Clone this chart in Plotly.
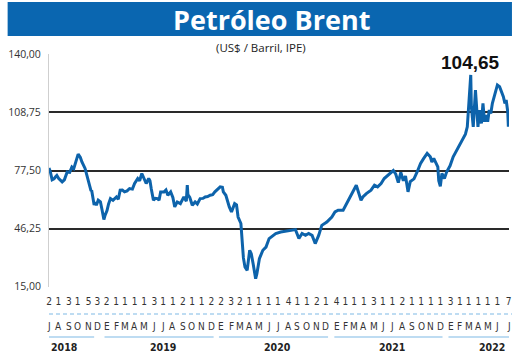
import plotly.graph_objects as go
import datetime as dt

# ---------------- data ----------------
dates = [
    "2018-07-02", "2018-07-06", "2018-07-12", "2018-07-18", "2018-07-23", "2018-07-27",
    "2018-08-02", "2018-08-08", "2018-08-13", "2018-08-20", "2018-08-29", "2018-09-06",
    "2018-09-13", "2018-09-19", "2018-09-24", "2018-10-03", "2018-10-10", "2018-10-15",
    "2018-10-25", "2018-11-01", "2018-11-05", "2018-11-13", "2018-11-15", "2018-11-23",
    "2018-11-26", "2018-11-30", "2018-12-06", "2018-12-13", "2018-12-18", "2018-12-24",
    "2018-12-28", "2019-01-03", "2019-01-08", "2019-01-14", "2019-01-22", "2019-02-02",
    "2019-02-08", "2019-02-14", "2019-02-21", "2019-02-28", "2019-03-08", "2019-03-16",
    "2019-03-25", "2019-04-01", "2019-04-11", "2019-04-17", "2019-04-24", "2019-05-02",
    "2019-05-08", "2019-05-16", "2019-05-20", "2019-05-24", "2019-05-31", "2019-06-06",
    "2019-06-13", "2019-06-18", "2019-06-23", "2019-07-04", "2019-07-10", "2019-07-16",
    "2019-07-25", "2019-08-01", "2019-08-07", "2019-08-15", "2019-08-25", "2019-09-05",
    "2019-09-13", "2019-09-16", "2019-09-18", "2019-09-24", "2019-10-02", "2019-10-11",
    "2019-10-18", "2019-10-27", "2019-11-05", "2019-11-12", "2019-11-20", "2019-11-28",
    "2019-12-06", "2019-12-13", "2019-12-20", "2019-12-30", "2020-01-06", "2020-01-09",
    "2020-01-17", "2020-01-22", "2020-01-28", "2020-02-04", "2020-02-14", "2020-02-20",
    "2020-02-25", "2020-03-05", "2020-03-09", "2020-03-13", "2020-03-18", "2020-03-25",
    "2020-04-02", "2020-04-07", "2020-04-13", "2020-04-21", "2020-04-25", "2020-05-03",
    "2020-05-14", "2020-05-24", "2020-06-03", "2020-06-14", "2020-06-24", "2020-07-10",
    "2020-07-26", "2020-08-11", "2020-08-26", "2020-09-06", "2020-09-16", "2020-09-27",
    "2020-10-07", "2020-10-18", "2020-10-28", "2020-11-08", "2020-11-18", "2020-12-04",
    "2020-12-20", "2020-12-30", "2021-01-09", "2021-01-25", "2021-02-05", "2021-02-15",
    "2021-02-24", "2021-03-03", "2021-03-08", "2021-03-13", "2021-03-23", "2021-03-29",
    "2021-04-09", "2021-04-24", "2021-05-05", "2021-05-15", "2021-05-26", "2021-06-05",
    "2021-06-16", "2021-06-26", "2021-07-04", "2021-07-12", "2021-07-20", "2021-07-28",
    "2021-08-05", "2021-08-12", "2021-08-20", "2021-08-27", "2021-09-08", "2021-09-18",
    "2021-09-29", "2021-10-09", "2021-10-20", "2021-10-30", "2021-11-04", "2021-11-10",
    "2021-11-15", "2021-11-23", "2021-11-26", "2021-12-01", "2021-12-06", "2021-12-14",
    "2021-12-21", "2022-01-01", "2022-01-11", "2022-01-22", "2022-02-02", "2022-02-12",
    "2022-02-19", "2022-02-25", "2022-03-02", "2022-03-08", "2022-03-10", "2022-03-16",
    "2022-03-23", "2022-03-28", "2022-03-31", "2022-04-05", "2022-04-11", "2022-04-16",
    "2022-04-21", "2022-04-26", "2022-05-01", "2022-05-06", "2022-05-11", "2022-05-16",
    "2022-05-24", "2022-06-01", "2022-06-08", "2022-06-14", "2022-06-20", "2022-06-25",
    "2022-06-29", "2022-07-04", "2022-07-06", "2022-07-07",
]
brent = [
    78.9, 77.0, 72.5, 73.0, 74.1, 74.8,
    73.2, 72.0, 71.4, 72.5, 76.7, 76.5,
    79.4, 78.5, 81.3, 86.3, 84.5, 82.1,
    78.6, 74.5, 72.3, 66.5, 66.9, 59.0,
    60.5, 58.8, 61.5, 60.6, 56.5, 51.1,
    53.5, 56.0, 59.5, 62.4, 61.5, 63.3,
    62.0, 66.9, 67.0, 66.0, 66.5, 67.8,
    67.5, 70.5, 73.2, 72.0, 75.9, 72.3,
    70.5, 73.2, 72.0, 67.8, 61.5, 62.5,
    62.4, 61.5, 66.0, 66.0, 67.0, 64.2,
    66.0, 63.0, 57.9, 60.6, 59.7, 63.3,
    61.0, 69.6, 64.5, 63.0, 58.8, 60.6,
    59.5, 62.4, 62.5, 63.3, 63.5, 64.2,
    64.5, 66.0, 67.0, 68.7, 68.5, 66.0,
    64.2, 60.6, 57.9, 55.2, 59.7, 59.0,
    52.5, 49.0, 36.3, 30.5, 25.6, 23.8,
    34.6, 32.8, 27.4, 19.3, 22.0, 30.1,
    34.6, 36.3, 40.9, 42.6, 43.6, 44.4,
    44.8, 45.3, 45.7, 40.9, 43.6, 42.6,
    43.6, 42.6, 38.2, 42.6, 48.0, 49.8,
    52.5, 55.2, 56.1, 56.1, 59.7, 63.3,
    66.0, 67.8, 69.6, 66.9, 61.5, 63.3,
    65.1, 66.9, 69.6, 68.7, 70.5, 73.2,
    75.0, 76.7, 77.5, 75.5, 71.0, 76.5,
    72.0, 74.5, 66.0, 71.5, 73.0, 76.7,
    81.3, 84.0, 86.7, 84.9, 82.0, 84.0,
    82.1, 79.4, 72.0, 69.0, 75.9, 73.2,
    76.7, 80.0, 84.9, 88.4, 91.1, 94.7,
    97.0, 101.0, 113.6, 128.9, 111.8, 101.0,
    120.8, 105.5, 101.0, 110.0, 102.8, 113.6,
    103.7, 107.3, 103.7, 110.0, 108.2, 113.6,
    119.0, 123.5, 122.6, 119.9, 117.2, 113.6,
    115.4, 109.1, 101.0, 104.65,
]

# x-axis: first quoted day of every month (Jul 2018 .. Jul 2022)
tick_months = [
    "2018-07", "2018-08", "2018-09", "2018-10", "2018-11", "2018-12",
    "2019-01", "2019-02", "2019-03", "2019-04", "2019-05", "2019-06",
    "2019-07", "2019-08", "2019-09", "2019-10", "2019-11", "2019-12",
    "2020-01", "2020-02", "2020-03", "2020-04", "2020-05", "2020-06",
    "2020-07", "2020-08", "2020-09", "2020-10", "2020-11", "2020-12",
    "2021-01", "2021-02", "2021-03", "2021-04", "2021-05", "2021-06",
    "2021-07", "2021-08", "2021-09", "2021-10", "2021-11", "2021-12",
    "2022-01", "2022-02", "2022-03", "2022-04", "2022-05", "2022-06",
    "2022-07",
]
tick_days = [2, 1, 3, 1, 5, 3,
             2, 1, 1, 1, 1, 3, 1, 1, 2, 1, 1, 2,
             2, 3, 2, 1, 1, 1, 1, 4, 1, 1, 2, 1,
             4, 1, 1, 1, 3, 1, 1, 2, 1, 1, 1, 1,
             3, 1, 1, 1, 1, 1, 7]
month_letters = ["E", "F", "M", "A", "M", "J", "J", "A", "S", "O", "N", "D"]
years = ["2018", "2019", "2020", "2021", "2022"]

y_ticks = [15.0, 46.25, 77.5, 108.75, 140.0]
y_ticktext = ["15,00", "46,25", "77,50", "108,75", "140,00"]

title_text = "Petróleo Brent"
subtitle_text = "(US$ / Barril, IPE)"

# ---------------- layout geometry ----------------
W, H = 520, 358
PL, PR, PT, PB = 45, 512, 54, 287


def px(x):
    return (x - PL) / (PR - PL)


def py(y):
    return (PB - y) / (PB - PT)


tick_dates = [f"{m}-{d:02d}" for m, d in zip(tick_months, tick_days)]
tick_text = [str(d) for d in tick_days]

BLUE = "#0a66b0"
LIGHTBLUE = "#a9d1ee"
COND = "DejaVu Sans Condensed, Roboto, sans-serif"

fig = go.Figure()
fig.add_trace(go.Scatter(
    x=dates, y=brent, mode="lines",
    line=dict(color="#0d63ab", width=3), hoverinfo="skip", showlegend=False,
))

shapes = []
annotations = []

# title bar
shapes.append(dict(type="rect", xref="paper", yref="paper",
                   x0=px(3), x1=px(515), y0=py(36), y1=py(2),
                   fillcolor=BLUE, line=dict(width=0), layer="above"))
annotations.append(dict(xref="paper", yref="paper", x=px(271), y=py(19),
                        text=f"<b>{title_text}</b>", showarrow=False,
                        font=dict(family="Open Sans", size=27, color="white"),
                        xanchor="center", yanchor="middle"))
annotations.append(dict(xref="paper", yref="paper", x=px(260), y=py(47),
                        text=subtitle_text, showarrow=False,
                        font=dict(family="Open Sans", size=11.5, color="#222222"),
                        xanchor="center", yanchor="middle"))

# last value label, placed above the peak
imax = max(range(len(brent)), key=lambda i: brent[i])
annotations.append(dict(xref="x", yref="y", x=dates[imax], y=brent[imax],
                        text=f"<b>{brent[-1]:.2f}".replace(".", ",") + "</b>",
                        showarrow=False, yanchor="bottom", xanchor="center", yshift=0,
                        font=dict(family="Liberation Sans", size=19, color="#111111")))

# dashed separator under day numbers
shapes.append(dict(type="line", xref="paper", yref="paper",
                   x0=px(45), x1=px(515), y0=py(314), y1=py(314),
                   line=dict(color=LIGHTBLUE, width=1.5, dash="4px,3px")))

# month letters
for d in tick_dates:
    m = int(d[5:7])
    annotations.append(dict(xref="x", yref="paper", x=d, y=py(326),
                            text=month_letters[m - 1], showarrow=False,
                            xanchor="center", yanchor="middle",
                            font=dict(family=COND, size=10, color="#333333")))

# year lines and labels
for k, yr in enumerate(years):
    yd = [d for d in tick_dates if d.startswith(yr)]
    d0 = dt.date.fromisoformat(yd[0]) - dt.timedelta(days=7)
    d1 = dt.date.fromisoformat(yd[-1]) + dt.timedelta(days=7)
    if k == 0:
        d1 = dt.date.fromisoformat(yd[-1]) - dt.timedelta(days=10)
    shapes.append(dict(type="line", xref="x", yref="paper",
                       x0=d0.isoformat(), x1=d1.isoformat(), y0=py(337), y1=py(337),
                       line=dict(color=LIGHTBLUE, width=1.5)))
    mid = f"{yr}-07-01"
    if k == 0:
        xa, xpos = "left", yd[0]
    elif k == len(years) - 1:
        xa, xpos = "right", mid
    else:
        xa, xpos = "center", mid
    annotations.append(dict(xref="x", yref="paper", x=xpos, y=py(347),
                            text=f"<b>{yr}</b>", showarrow=False,
                            xanchor=xa, yanchor="middle",
                            font=dict(family=COND, size=10.5, color="#222222")))

fig.update_layout(
    width=W, height=H,
    margin=dict(l=PL, r=W - PR, t=PT, b=H - PB, pad=0),
    paper_bgcolor="white", plot_bgcolor="white",
    shapes=shapes, annotations=annotations,
    showlegend=False,
    xaxis=dict(
        type="date", range=["2018-07-02", "2022-07-08"],
        tickmode="array", tickvals=tick_dates, ticktext=tick_text,
        tickangle=0, ticks="", showgrid=False, showline=False, zeroline=False,
        tickfont=dict(family=COND, size=10, color="#333333"),
        ticklabelstandoff=7, fixedrange=True,
    ),
    yaxis=dict(
        range=[14.85, 140.15], tickmode="array", tickvals=y_ticks, ticktext=y_ticktext,
        showgrid=True, gridcolor="#2a2a2a", gridwidth=2,
        showline=True, linecolor="#cfcfcf", linewidth=1,
        zeroline=False, ticks="", ticklabelstandoff=5,
        tickfont=dict(family="Open Sans", size=10.5, color="#333333"),
        fixedrange=True,
    ),
)

fig.write_html(
    "out.html",
    config={"displayModeBar": False, "staticPlot": True},
    post_script="document.body.style.margin='0';document.body.style.padding='0';",
)
